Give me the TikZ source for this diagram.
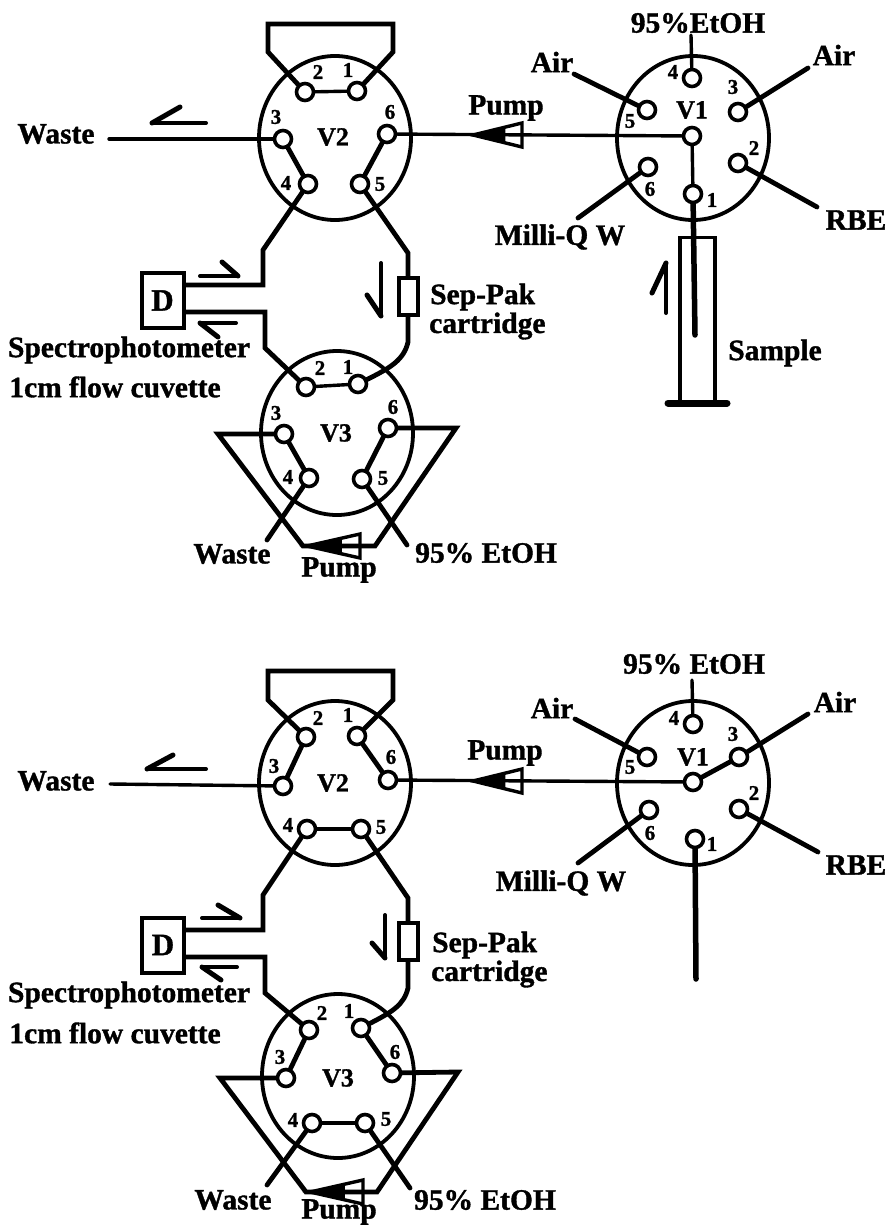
\documentclass[tikz,border=0pt]{standalone}
\usepackage{fontspec}
\setmainfont{Liberation Serif}
\newfontfamily\heavy{Liberation Serif Bold}[FakeBold=1.2]
\usetikzlibrary{shapes.geometric,calc}
\tikzset{
  valve/.style={draw,ellipse,line width=3.8pt,minimum width=152pt,minimum height=164pt,inner sep=0pt},
  port/.style={draw,circle,line width=3.6pt,minimum size=17pt,inner sep=0pt,fill=white},
  num/.style={font=\heavy\fontsize{21}{22}\selectfont,inner sep=0pt},
  vname/.style={font=\heavy\fontsize{26}{28}\selectfont,inner sep=0pt},
  lab/.style={font=\heavy\fontsize{29.5}{31}\selectfont,inner sep=0pt},
  pipe/.style={line width=4.8pt,line join=miter,line cap=round},
  thin pipe/.style={line width=3.4pt,line cap=round},
  box/.style={draw,line width=4pt,inner sep=0pt}
}
\newcommand{\prt}[6]{\node[port] (#1) at (#2,#3) {};\node[num] (#1-l) at (#5,#6) {#4};}
\newcommand{\flow}[7]{% name, tail x y, tip x y, barb x y
  \coordinate (#1-a) at (#2,#3);\coordinate (#1-b) at (#4,#5);\coordinate (#1-c) at (#6,#7);
  \draw[line width=4pt,line cap=round] (#1-a) -- (#1-b);
  \draw[line width=5pt,line cap=round] (#1-b) -- (#1-c);}
\newcommand{\pumpshape}[5]{% name, tip x y, base x, half height
  \coordinate (#1-tip) at (#2,#3);
  \draw[line width=3.4pt,line join=miter,fill=white] (#1-tip) -- (#4,#3-#5) -- (#4,#3+#5) -- cycle;
  \fill (#1-tip) -- ({#2+0.66*(#4-#2)},{#3-0.66*#5}) -- ({#2+0.66*(#4-#2)},{#3+0.66*#5}) -- cycle;}
\begin{document}
\begin{tikzpicture}[x=1pt,y=-1pt]
\useasboundingbox (0,0) rectangle (892,1226);
% ===== upper panel =====
\node[valve] (tV2) at (335,138) {};
\node[valve] (tV3) at (337,433) {};
\node[valve] (tV1) at (693,138) {};
\node[vname] (tV2n) at (333,137) {V2};
\node[vname] (tV3n) at (336,433) {V3};
\node[vname] (tV1n) at (692,110) {V1};
\prt{ta2}{305}{92}{2}{318}{72}
\prt{ta1}{357}{91}{1}{348}{70}
\prt{ta3}{283}{139}{3}{276}{117}
\prt{ta6}{387}{134}{6}{390}{112}
\prt{ta4}{308}{184}{4}{286}{183}
\prt{ta5}{360}{184}{5}{380}{184}
\prt{tb2}{306}{387}{2}{320}{368}
\prt{tb1}{358}{384}{1}{348}{367}
\prt{tb3}{284}{434}{3}{276}{413}
\prt{tb6}{388}{428}{6}{393}{407}
\prt{tb4}{309}{478}{4}{288}{477}
\prt{tb5}{362}{479}{5}{383}{478}
\prt{tc4}{692}{78}{4}{673}{72}
\prt{tc3}{738}{112}{3}{733}{87}
\prt{tc5}{647}{110}{5}{630}{121}
\node[port] (tc0) at (692,136) {};
\prt{tc2}{738}{163}{2}{754}{148}
\prt{tc6}{648}{167}{6}{650}{189}
\prt{tc1}{693}{194}{1}{712}{200}
% text
\node[lab] (tw) at (56,134) {Waste};
\node[lab] (tw2) at (232,554) {Waste};
\node[lab] (tpu) at (506,108) {Pump};
\node[lab] (tpu2) at (339,570) {Pump};
\node[lab,anchor=west] (tet) at (415,553) {95\% EtOH};
\node[lab] (tet2) at (698,23) {95\%EtOH};
\node[lab] (tai) at (552,62) {Air};
\node[lab] (tai2) at (834,55) {Air};
\node[lab] (trb) at (856,220) {RBE};
\node[lab] (tmi) at (560,237) {Milli-Q W};
\node[lab] (tsa) at (775,353) {Sample};
\node[lab] (tsp) at (129,350) {Spectrophotometer};
\node[lab] (tcu) at (115,387) {1cm flow cuvette};
\node[lab,anchor=west] (tsep) at (430,297) {Sep-Pak};
\node[lab,anchor=west] (tcar) at (429,326) {cartridge};
% boxes
\node[box,minimum width=42pt,minimum height=55pt,font=\heavy\fontsize{31}{33}\selectfont] (tD) at (162.5,300.5) {D};
\node[box,minimum width=19pt,minimum height=37pt] (tcart) at (408,296) {};
\node[draw,line width=3.8pt,minimum width=35pt,minimum height=165pt,inner sep=0pt] (tsyr) at (697.5,320) {};
\coordinate (tbase1) at (668,403);\coordinate (tbase2) at (727,403);
\draw[line width=7pt,line cap=round] (tbase1) -- (tbase2);
% pumps
\pumpshape{tp1}{473}{135}{522}{12}
\pumpshape{tp2}{307}{546}{360}{12}
% pipes
\coordinate (tl1) at (268,52);\coordinate (tl2) at (268,24);\coordinate (tl3) at (393,24);\coordinate (tl4) at (393,52);
\draw[pipe] (ta2) -- (tl1) -- (tl2) -- (tl3) -- (tl4) -- (ta1);
\draw[thin pipe] (ta2) -- (ta1);
\coordinate (twe) at (109,139);
\draw[thin pipe] (twe) -- (ta3);
\draw[pipe] (ta3) -- (ta4);
\draw[pipe] (ta6) -- (ta5);
\draw[thin pipe] (tc0) -- (ta6);
\coordinate (td1) at (263,250);\coordinate (td2) at (263,285);
\draw[pipe] (ta4) -- (td1) -- (td2) -- (tD.east |- td2);
\coordinate (td3) at (265,312);\coordinate (td4) at (265,348);
\draw[pipe] (tD.east |- td3) -- (td3) -- (td4) -- (tb2);
\draw[thin pipe] (tb2) -- (tb1);
\coordinate (tc5a) at (408,253);
\draw[pipe] (ta5) -- (tc5a) -- (tcart.north);
\coordinate (tc5b) at (408,342);
\draw[pipe] (tcart.south) -- (tc5b) .. controls (404,360) and (390,368) .. (tb1);
\coordinate (tl5) at (218,434);\coordinate (tl6) at (303,546);\coordinate (tl7) at (375,546);\coordinate (tl8) at (456,428);
\draw[pipe] (tb3) -- (tl5) -- (tl6) -- (tl7) -- (tl8) -- (tb6);
\draw[pipe] (tb3) -- (tb4);
\draw[pipe] (tb6) -- (tb5);
\coordinate (twe2) at (267,540);\coordinate (tet3) at (407,545);
\draw[pipe] (tb4) -- (twe2);
\draw[pipe] (tb5) -- (tet3);
% V1 pipes
\coordinate (t4e) at (691,35);\coordinate (t5e) at (574,74);\coordinate (t3e) at (808,68);\coordinate (t2e) at (817,207);\coordinate (t6e) at (578,218);\coordinate (t1e) at (695,335);
\draw[thin pipe] (tc4) -- (t4e);
\draw[pipe] (tc5) -- (t5e);
\draw[pipe] (tc3) -- (t3e);
\draw[pipe] (tc2) -- (t2e);
\draw[pipe] (tc6) -- (t6e);
\draw[thin pipe] (tc0) -- (tc1);
\draw[line width=5.5pt,line cap=round] (tc1) -- (t1e);
% flow arrows
\flow{tf1}{206}{123}{152}{123}{180}{107}
\flow{tf2}{200}{276}{238}{276}{222}{262}
\flow{tf3}{236}{323}{200}{323}{218}{337}
\flow{tf4}{381}{263}{381}{316}{367}{295}
\flow{tf5}{666}{313}{666}{263}{652}{293}
% ===== lower panel =====
\node[valve] (bV2) at (335,783) {};
\node[valve] (bV3) at (338,1076) {};
\node[valve] (bV1) at (693,783) {};
\node[vname] (bV2n) at (333,783) {V2};
\node[vname] (bV3n) at (338,1078) {V3};
\node[vname] (bV1n) at (693,757) {V1};
\prt{ba2}{306}{737}{2}{318}{718}
\prt{ba1}{357}{736}{1}{348}{715}
\prt{ba3}{283}{786}{3}{274}{766}
\prt{ba6}{388}{780}{6}{391}{757}
\prt{ba4}{307}{829}{4}{288}{825}
\prt{ba5}{361}{829}{5}{381}{827}
\prt{bb2}{309}{1030}{2}{322}{1013}
\prt{bb1}{361}{1028}{1}{349}{1011}
\prt{bb3}{286}{1078}{3}{280}{1057}
\prt{bb6}{392}{1073}{6}{395}{1052}
\prt{bb4}{312}{1123}{4}{293}{1120}
\prt{bb5}{365}{1123}{5}{386}{1119}
\prt{bc4}{693}{724}{4}{674}{718}
\prt{bc3}{739}{757}{3}{733}{734}
\prt{bc5}{647}{757}{5}{630}{767}
\node[port] (bc0) at (693,782) {};
\prt{bc2}{739}{809}{2}{754}{793}
\prt{bc6}{649}{810}{6}{650}{833}
\prt{bc1}{695}{839}{1}{712}{844}
\node[lab] (bw) at (56,781) {Waste};
\node[lab] (bw2) at (233,1200) {Waste};
\node[lab] (bpu) at (505,753) {Pump};
\node[lab] (bpu2) at (339,1212) {Pump};
\node[lab] (bet) at (485,1200) {95\% EtOH};
\node[lab] (bet2) at (694,664) {95\% EtOH};
\node[lab] (bai) at (552,708) {Air};
\node[lab] (bai2) at (835,702) {Air};
\node[lab] (brb) at (856,865) {RBE};
\node[lab] (bmi) at (561,883) {Milli-Q W};
\node[lab] (bsp) at (129,995) {Spectrophotometer};
\node[lab] (bcu) at (115,1033) {1cm flow cuvette};
\node[lab,anchor=west] (bsep) at (432,945) {Sep-Pak};
\node[lab,anchor=west] (bcar) at (431,974) {cartridge};
\node[box,minimum width=42pt,minimum height=55pt,font=\heavy\fontsize{31}{33}\selectfont] (bD) at (163,945) {D};
\node[box,minimum width=19pt,minimum height=37pt] (bcart) at (408,941) {};
\pumpshape{bp1}{473}{781}{522}{12}
\pumpshape{bp2}{310}{1192}{363}{12}
\coordinate (bl1) at (268,700);\coordinate (bl2) at (268,671);\coordinate (bl3) at (393,671);\coordinate (bl4) at (393,700);
\draw[pipe] (ba2) -- (bl1) -- (bl2) -- (bl3) -- (bl4) -- (ba1);
\coordinate (bwe) at (110,784);
\draw[thin pipe] (bwe) -- (ba3);
\draw[pipe] (ba3) -- (ba2);
\draw[pipe] (ba6) -- (ba1);
\draw[thin pipe] (ba4) -- (ba5);
\draw[thin pipe] (bc0) -- (ba6);
\coordinate (bd1) at (263,895);\coordinate (bd2) at (263,930);
\draw[pipe] (ba4) -- (bd1) -- (bd2) -- (bD.east |- bd2);
\coordinate (bd3) at (265,957);\coordinate (bd4) at (265,993);
\draw[pipe] (bD.east |- bd3) -- (bd3) -- (bd4) -- (bb2);
\draw[pipe] (bb2) -- (bb3);
\draw[pipe] (bb1) -- (bb6);
\draw[thin pipe] (bb4) -- (bb5);
\coordinate (bc5a) at (408,898);
\draw[pipe] (ba5) -- (bc5a) -- (bcart.north);
\coordinate (bc5b) at (408,988);
\draw[pipe] (bcart.south) -- (bc5b) .. controls (404,1005) and (392,1012) .. (bb1);
\coordinate (bl5) at (220,1078);\coordinate (bl6) at (306,1192);\coordinate (bl7) at (377,1192);\coordinate (bl8) at (458,1072);
\draw[pipe] (bb3) -- (bl5) -- (bl6) -- (bl7) -- (bl8) -- (bb6);
\coordinate (bwe2) at (267,1185);\coordinate (bet3) at (410,1188);
\draw[pipe] (bb4) -- (bwe2);
\draw[pipe] (bb5) -- (bet3);
\coordinate (b4e) at (692,680);\coordinate (b5e) at (575,719);\coordinate (b3e) at (808,714);\coordinate (b2e) at (818,852);\coordinate (b6e) at (578,863);\coordinate (b1e) at (696,979);
\draw[thin pipe] (bc4) -- (b4e);
\draw[pipe] (bc5) -- (b5e);
\draw[pipe] (bc3) -- (b3e);
\draw[pipe] (bc2) -- (b2e);
\draw[pipe] (bc6) -- (b6e);
\draw[pipe] (bc0) -- (bc3);
\draw[line width=5.5pt,line cap=round] (bc1) -- (b1e);
\flow{bf1}{206}{769}{147}{769}{173}{755}
\flow{bf2}{202}{918}{240}{918}{218}{905}
\flow{bf3}{237}{967}{202}{967}{221}{980}
\flow{bf4}{385}{915}{385}{958}{372}{943}
\end{tikzpicture}
\end{document}
